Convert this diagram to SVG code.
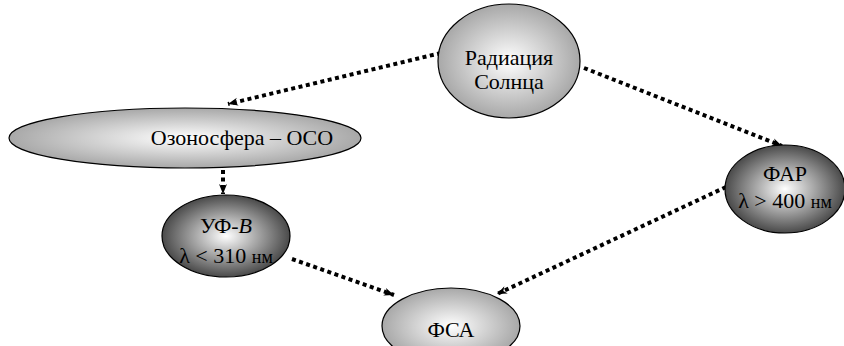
<svg xmlns="http://www.w3.org/2000/svg" width="844" height="346" viewBox="0 0 844 346">
<defs>
<radialGradient id="gl" cx="50%" cy="50%" r="50%">
<stop offset="0" stop-color="#ffffff"/>
<stop offset="1" stop-color="#a8a8a8"/>
</radialGradient>
<radialGradient id="gd" cx="50%" cy="50%" r="50%">
<stop offset="0" stop-color="#ffffff"/>
<stop offset="1" stop-color="#4a4a4a"/>
</radialGradient>
<marker id="ah" viewBox="0 0 10 10" refX="10" refY="5" markerWidth="10" markerHeight="10" markerUnits="userSpaceOnUse" orient="auto">
<path d="M0,1 L10,5 L0,9 L3,5 Z" fill="#000"/>
</marker>
<style>
.n{stroke:#000;stroke-width:1.2}
.t{font-size:22px;fill:#000;text-anchor:middle}
.s{font-size:18px}
.c{fill:none;stroke:#000;stroke-width:4;stroke-dasharray:4 3.5;marker-end:url(#ah)}
</style>
</defs>
<g id="connectors">
<path class="c" d="M441,53 L228,104"/>
<path class="c" d="M584,68 L782,146"/>
<path class="c" d="M223,170 L223,194"/>
<path class="c" d="M292,259 L394,295"/>
<path class="c" d="M726,187 L497,294"/>
</g>
<g id="radiation">
<ellipse class="n" cx="509" cy="61" rx="71" ry="57" fill="url(#gl)"/>
<text class="t" x="509" y="65" font-family="Liberation Serif, serif">Радиация</text>
<text class="t" x="509" y="89" font-family="Liberation Serif, serif">Солнца</text>
</g>
<g id="ozonosphere">
<ellipse class="n" cx="185" cy="138" rx="176" ry="30" fill="url(#gl)"/>
<text class="t" x="242" y="145" font-family="Liberation Serif, serif">Озоносфера – ОСО</text>
</g>
<g id="uvb">
<ellipse class="n" cx="226" cy="236" rx="64" ry="41" fill="url(#gd)"/>
<text class="t" x="226" y="233" font-family="Liberation Serif, serif">УФ-<tspan font-style="italic">B</tspan></text>
<text class="t" x="226" y="263" font-family="Liberation Serif, serif">λ &lt; 310 <tspan class="s">нм</tspan></text>
</g>
<g id="far">
<ellipse class="n" cx="785" cy="189" rx="60" ry="44" fill="url(#gd)"/>
<text class="t" x="785" y="181" font-family="Liberation Serif, serif">ФАР</text>
<text class="t" x="785" y="208" font-family="Liberation Serif, serif">λ &gt; 400 <tspan class="s">нм</tspan></text>
</g>
<g id="fsa">
<ellipse class="n" cx="451" cy="326" rx="69" ry="38" fill="url(#gl)"/>
<text class="t" x="451" y="337" font-family="Liberation Serif, serif">ФСА</text>
</g>
</svg>
